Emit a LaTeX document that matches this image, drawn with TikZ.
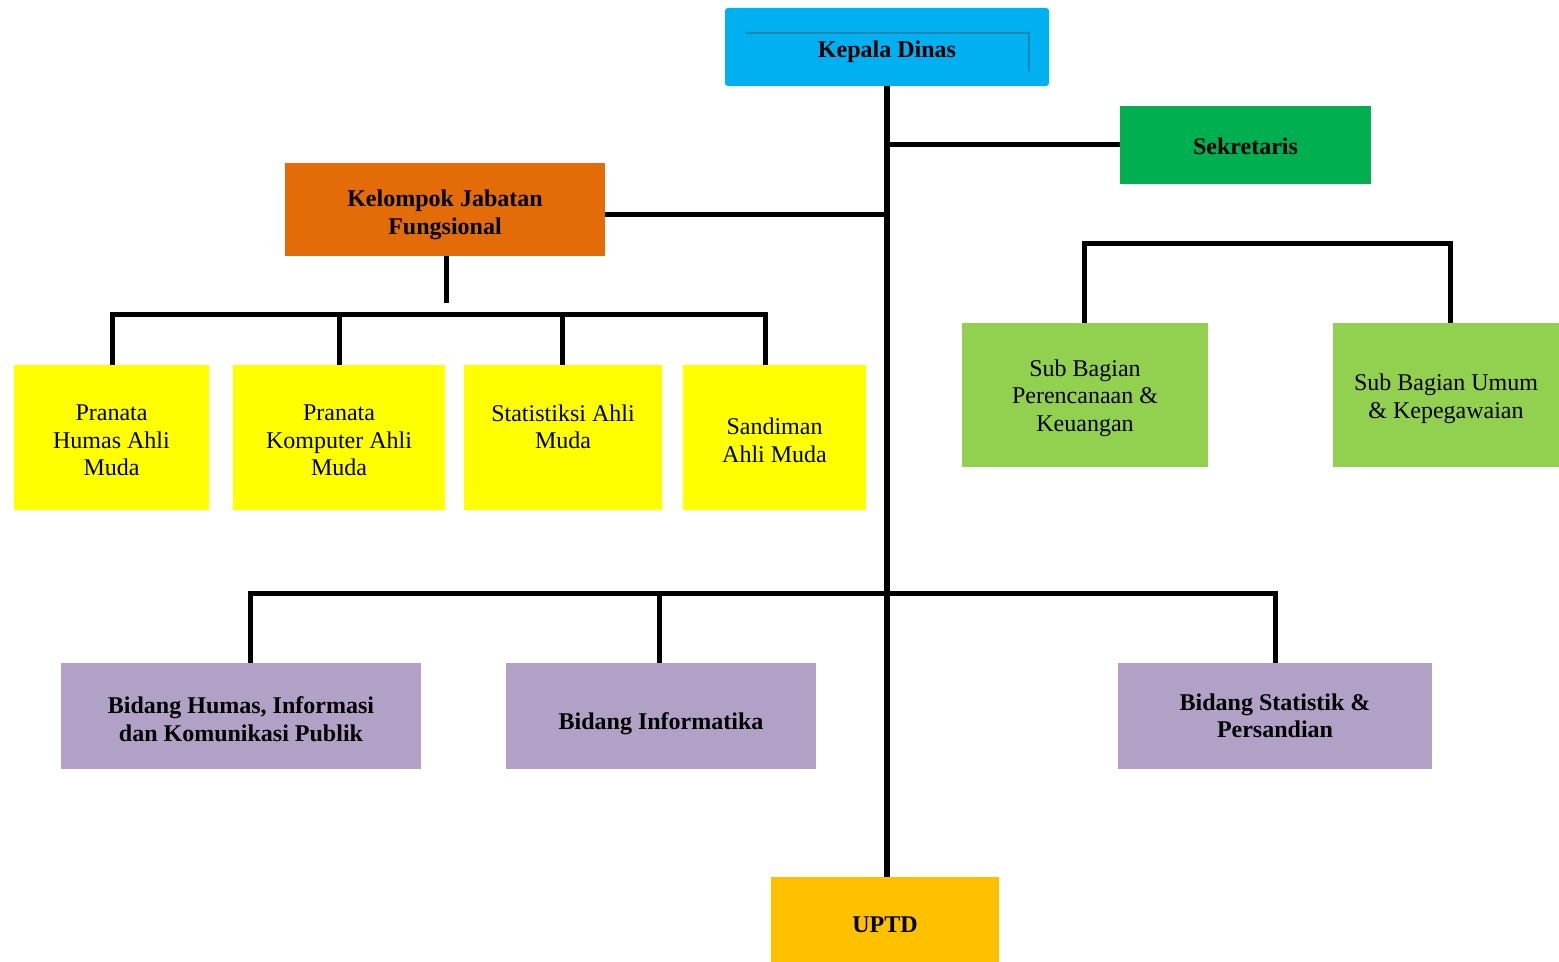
\documentclass[tikz,border=0pt]{standalone}
\usepackage{fontspec}
\setmainfont{Liberation Serif}
\definecolor{kdblue}{HTML}{00B0F0}
\definecolor{kdline}{HTML}{1A86B4}
\definecolor{sekgreen}{HTML}{00B050}
\definecolor{kjforange}{HTML}{E36C09}
\definecolor{fyellow}{HTML}{FFFF00}
\definecolor{lgreen}{HTML}{92D050}
\definecolor{lpurple}{HTML}{B2A1C7}
\definecolor{uorange}{HTML}{FFC000}
\begin{document}
\begin{tikzpicture}[x=0.5pt,y=-0.5pt,
  box/.style={draw=none, inner sep=0pt},
  rtxt/.style={inner sep=0pt, align=center, text=black,
    font=\fontsize{12}{13.75}\selectfont},
  btxt/.style={rtxt, font=\fontsize{12}{13.75}\selectfont\bfseries},
  rl/.style 2 args={label={[rtxt, yshift=-#1]center:{#2}}},
  bl/.style 2 args={label={[btxt, yshift=-#1]center:{#2}}},
  sz/.style 2 args={minimum width=#1*0.5pt, minimum height=#2*0.5pt},
  conn/.style={line width=2.5pt, black, line join=miter},
  trunk/.style={line width=3pt, black}]
\useasboundingbox (0,0) rectangle (1559,962);

% nodes
\node[box, fill=kdblue, sz={324}{78}, rounded corners=1.5pt, bl={2.5pt}{Kepala Dinas}] (kd) at (887,47) {};
\draw[kdline, line width=0.6pt] (746,33) -- (1029,33) -- (1029,72);
\node[box, fill=sekgreen, sz={251}{78}, bl={0.5pt}{Sekretaris}] (sek) at (1245.5,145) {};
\node[box, fill=kjforange, sz={320}{93}, bl={2.75pt}{Kelompok Jabatan\\Fungsional}] (kjf) at (445,209.5) {};

\node[box, fill=fyellow, sz={195}{145}, rl={1.5pt}{Pranata\\Humas Ahli\\Muda}] (y1) at (111.5,437.5) {};
\node[box, fill=fyellow, sz={212}{145}, rl={1.5pt}{Pranata\\Komputer Ahli\\Muda}] (y2) at (339,437.5) {};
\node[box, fill=fyellow, sz={198}{145}, rl={1.5pt}{Statistiksi Ahli\\Muda\\~}] (y3) at (563,437.5) {};
\node[box, fill=fyellow, sz={183}{145}, rl={1.5pt}{Sandiman\\Ahli Muda}] (y4) at (774.5,437.5) {};

\node[box, fill=lgreen, sz={246}{144}, rl={1.5pt}{Sub Bagian\\Perencanaan \&\\Keuangan}] (g1) at (1085,395) {};
\node[box, fill=lgreen, sz={226}{144}, rl={2pt}{Sub Bagian Umum\\\& Kepegawaian}] (g2) at (1446,395) {};
\path (g2.center) ++(0,0) coordinate (g2c);

\node[box, fill=lpurple, sz={360}{106}, bl={1.5pt}{Bidang Humas, Informasi\\dan Komunikasi Publik}] (p1) at (241,716) {};
\node[box, fill=lpurple, sz={310}{106}, bl={4pt}{Bidang Informatika}] (p2) at (661,716) {};
\node[box, fill=lpurple, sz={314}{106}, bl={0pt}{Bidang Statistik \&\\Persandian}] (p3) at (1275,716) {};

\node[box, fill=uorange, sz={228}{85}, bl={2.5pt}{UPTD}] (u) at (885,919.5) {};

% junction coordinates
\coordinate (j1) at (112,315);
\coordinate (j2) at (339,315);
\coordinate (j3) at (562,315);
\coordinate (j4) at (765,315);
\coordinate (s1) at (1084,244);
\coordinate (s2) at (1450,244);
\coordinate (b1) at (250,594);
\coordinate (b2) at (659,594);
\coordinate (b3) at (1275,594);

% connectors
\draw[trunk] (kd.south) -- (kd.south |- u.north);
\draw[conn] (sek.west) -- (sek.west -| kd.south);
\draw[conn] ([yshift=-2.75pt]kjf.east) -- ([yshift=-2.75pt]kjf.east -| kd.south);
\draw[conn] ([xshift=0.5pt]kjf.south) -- ++(0,47);

\draw[conn] (j1 |- y1.north) -- (j1) -- (j4) -- (j4 |- y4.north);
\draw[conn] (j2) -- (j2 |- y2.north);
\draw[conn] (j3) -- (j3 |- y3.north);

\draw[conn] (s1 |- g1.north) -- (s1) -- (s2) -- (s2 |- g2.north);

\draw[conn] (b1 |- p1.north) -- (b1) -- (b3) -- (b3 |- p3.north);
\draw[conn] (b2) -- (b2 |- p2.north);
\end{tikzpicture}
\end{document}
